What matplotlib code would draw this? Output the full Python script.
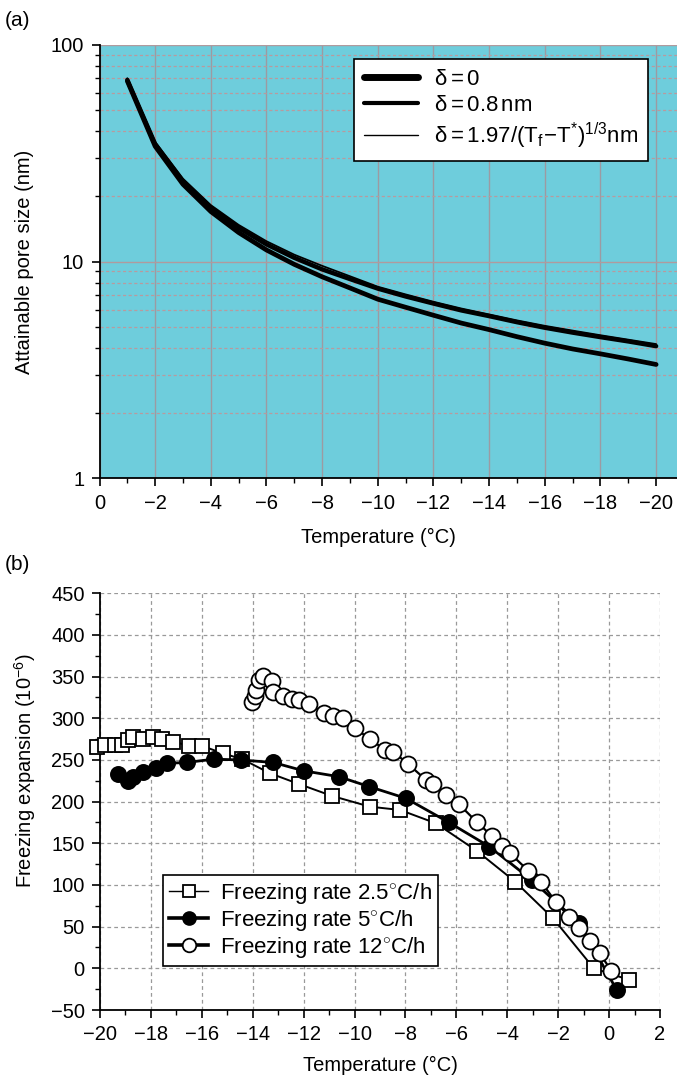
import matplotlib
matplotlib.use("Agg")
import matplotlib.pyplot as plt
from matplotlib.ticker import FixedLocator, MultipleLocator, NullFormatter, LogLocator

plt.rcParams['font.family'] = ['Liberation Sans', 'DejaVu Sans']
plt.rcParams['mathtext.fontset'] = 'custom'
plt.rcParams['mathtext.rm'] = 'Liberation Sans'
plt.rcParams['mathtext.it'] = 'Liberation Sans'
plt.rcParams['mathtext.bf'] = 'Liberation Sans'

# ---------------- Panel (a) data ----------------
temp_a = [-1, -2, -3, -4, -5, -6, -7, -8, -9, -10, -11, -12, -13, -14, -15, -16, -17, -18, -19, -20]
pore_delta0 = [68.0, 34.0, 22.7, 17.0, 13.6, 11.3, 9.7, 8.5, 7.55, 6.7, 6.15, 5.65, 5.2, 4.85, 4.5,
               4.2, 3.95, 3.75, 3.55, 3.35]
pore_delta08 = [68.8, 34.8, 23.4, 17.7, 14.3, 12.0, 10.4, 9.2, 8.3, 7.5, 6.9, 6.4, 5.95, 5.6, 5.25,
                4.95, 4.7, 4.48, 4.28, 4.07]
pore_deltaT = [70.0, 35.6, 24.1, 18.2, 14.75, 12.4, 10.75, 9.55, 8.55, 7.65, 7.05, 6.52, 6.07, 5.7, 5.35,
               5.05, 4.8, 4.57, 4.36, 4.16]
labels_a = [r"$\delta = 0$", r"$\delta = 0.8\,$nm",
            r"$\delta = 1.97/(\mathrm{T_f}\!-\!\mathrm{T^{*}})^{1/3}\mathrm{nm}$"]

# ---------------- Panel (b) data ----------------
temp_25 = [-20.1, -19.8, -19.4, -19.12, -18.89, -18.69, -18.3, -17.93, -17.58, -17.12, -16.5, -16.0,
           -15.18, -14.41, -13.32, -12.17, -10.9, -9.4, -8.21, -6.8, -5.2, -3.69, -2.2, -0.6, 0.8]
exp_25 = [265, 268, 268, 268, 274, 278, 275, 277, 275, 272, 267, 267,
          258, 251, 234, 221, 207, 194, 190, 174, 141, 104, 60, 0, -14]

temp_5 = [-19.28, -18.89, -18.69, -18.3, -17.8, -17.38, -16.6, -15.52, -14.46, -13.19, -12.0, -10.62,
          -9.42, -7.98, -6.29, -4.7, -3.04, -1.17, 0.3]
exp_5 = [233, 225, 230, 235, 240, 246, 247, 251, 250, 247, 237, 230,
         218, 204, 175, 146, 106, 54, -26]

temp_12 = [-14.02, -13.91, -13.87, -13.74, -13.58, -13.25, -13.21, -12.8, -12.47, -12.17, -11.79,
           -11.19, -10.83, -10.46, -9.98, -9.39, -8.8, -8.48, -7.89, -7.19, -6.9, -6.42, -5.9,
           -5.18, -4.61, -4.22, -3.89, -3.17, -2.68, -2.1, -1.58, -1.2, -0.76, -0.37, 0.09]
exp_12 = [319, 327, 334, 346, 351, 345, 332, 327, 323, 322, 317,
          306, 303, 300, 288, 275, 262, 260, 245, 226, 221, 208, 197,
          175, 159, 147, 138, 117, 104, 80, 62, 48, 33, 18, -3]
labels_b = [r"Freezing rate 2.5$^{\circ}$C/h", r"Freezing rate 5$^{\circ}$C/h",
            r"Freezing rate 12$^{\circ}$C/h"]

W, H = 677, 1087
fig = plt.figure(figsize=(W / 100, H / 100), dpi=100)

FS = 14.5
LFS = 16

# ---------------- Panel (a) ----------------
axa = fig.add_axes([99.5 / W, 1 - 478.3 / H, (677 - 99.5) / W, (478.3 - 44.7) / H])
axa.set_facecolor('#6ecddc')
axa.set_yscale('log')
axa.set_ylim(1, 100)
axa.set_xlim(0, -20.75)
axa.xaxis.set_major_locator(FixedLocator(list(range(0, -21, -2))))
axa.xaxis.set_minor_locator(FixedLocator(list(range(-1, -21, -2))))
axa.set_xticklabels(['0'] + ['\u2212%d' % v for v in range(2, 21, 2)])
axa.yaxis.set_major_locator(FixedLocator([1, 10, 100]))
axa.set_yticklabels(['1', '10', '100'])
axa.yaxis.set_minor_locator(LogLocator(base=10, subs=range(2, 10)))
axa.yaxis.set_minor_formatter(NullFormatter())
axa.grid(True, which='major', axis='x', color='#9c9aa2', lw=1.0, ls='-')
axa.grid(True, which='major', axis='y', color='#b09a9e', lw=1.0, ls='-')
axa.grid(True, which='minor', axis='y', color='#b89a9e', lw=0.9, ls=(0, (2.5, 2)))
axa.set_axisbelow(True)
for s in ['top', 'right']:
    axa.spines[s].set_visible(False)
for s in ['left', 'bottom']:
    axa.spines[s].set_linewidth(1.3)
axa.tick_params(which='major', direction='out', length=6, width=1.2, labelsize=FS, pad=5)
axa.tick_params(which='minor', direction='out', length=3.5, width=1.0)

la1, = axa.plot(temp_a, pore_delta0, color='black', lw=3.4, solid_capstyle='round',
                solid_joinstyle='round', label=labels_a[0])
la2, = axa.plot(temp_a, pore_delta08, color='black', lw=3.2, solid_capstyle='round',
                solid_joinstyle='round', label=labels_a[1])
la3, = axa.plot(temp_a, pore_deltaT, color='black', lw=1.3, solid_capstyle='round',
                label=labels_a[2])
lega = fig.legend(handles=[la1, la2, la3], loc='upper left',
                  bbox_to_anchor=(354 / W, 1 - 59 / H), bbox_transform=fig.transFigure,
                  borderaxespad=0, fancybox=False, framealpha=1, edgecolor='black',
                  fontsize=LFS, handlelength=2.45, handletextpad=0.7, labelspacing=0.22,
                  borderpad=0.45)
lega.get_frame().set_linewidth(1.2)
lega.legend_handles[0].set_linewidth(5.0)
lega.legend_handles[1].set_linewidth(3.0)
lega.legend_handles[2].set_linewidth(1.0)

fig.text(378 / W, 1 - 537 / H, 'Temperature (°C)', ha='center', va='center', fontsize=FS)
fig.text(25 / W, 1 - 262 / H, 'Attainable pore size (nm)', ha='center', va='center',
         rotation=90, fontsize=FS)
fig.text(5 / W, 1 - 20 / H, '(a)', ha='left', va='center', fontsize=FS + 0.5)

# ---------------- Panel (b) ----------------
axb = fig.add_axes([100 / W, 1 - 1010 / H, (660 - 100) / W, (1010 - 593.3) / H])
axb.set_xlim(-20, 2)
axb.set_ylim(-50, 450)
axb.xaxis.set_minor_locator(MultipleLocator(1))
axb.yaxis.set_minor_locator(MultipleLocator(25))
xt = list(range(-20, 3, 2))
axb.set_xticks(xt)
axb.set_xticklabels([('\u2212%d' % -v) if v < 0 else str(v) for v in xt])
yt = list(range(-50, 451, 50))
axb.set_yticks(yt)
axb.set_yticklabels([('\u2212%d' % -v) if v < 0 else str(v) for v in yt])
axb.grid(True, which='major', color='#999999', lw=0.9, ls=(0, (3, 2.5)))
axb.set_axisbelow(True)
for s in ['top', 'right']:
    axb.spines[s].set_visible(False)
for s in ['left', 'bottom']:
    axb.spines[s].set_linewidth(1.3)
axb.tick_params(which='major', direction='out', length=6, width=1.2, labelsize=FS, pad=5)
axb.tick_params(which='minor', direction='out', length=3.5, width=1.0)

lb1, = axb.plot(temp_25, exp_25, color='black', lw=1.4, marker='s', ms=10.5, mfc='white',
                mec='black', mew=1.3, label=labels_b[0], clip_on=False, zorder=3)
lb2, = axb.plot(temp_5, exp_5, color='black', lw=2.0, marker='o', ms=11, mfc='black',
                mec='black', mew=1.2, label=labels_b[1], clip_on=False, zorder=4)
lb3, = axb.plot(temp_12, exp_12, color='black', lw=1.6, marker='o', ms=11.5, mfc='white',
                mec='black', mew=1.3, label=labels_b[2], clip_on=False, zorder=5)
legb = fig.legend(handles=[lb1, lb2, lb3], loc='upper left',
                  bbox_to_anchor=(163 / W, 1 - 875 / H), bbox_transform=fig.transFigure,
                  borderaxespad=0, fancybox=False, framealpha=1, edgecolor='black',
                  fontsize=LFS, handlelength=1.75, handletextpad=0.55, labelspacing=0.08,
                  borderpad=0.28, markerscale=0.85)
legb.get_frame().set_linewidth(1.2)
legb.legend_handles[0].set_linewidth(1.0)
legb.legend_handles[1].set_linewidth(2.6)
legb.legend_handles[2].set_linewidth(2.6)

fig.text(380 / W, 1 - 1065 / H, 'Temperature (°C)', ha='center', va='center', fontsize=FS)
fig.text(25 / W, 1 - 771 / H, r'Freezing expansion (10$^{-6}$)', ha='center', va='center',
         rotation=90, fontsize=FS)
fig.text(5 / W, 1 - 565 / H, '(b)', ha='left', va='center', fontsize=FS + 0.5)

fig.savefig('out.png', dpi=100)
